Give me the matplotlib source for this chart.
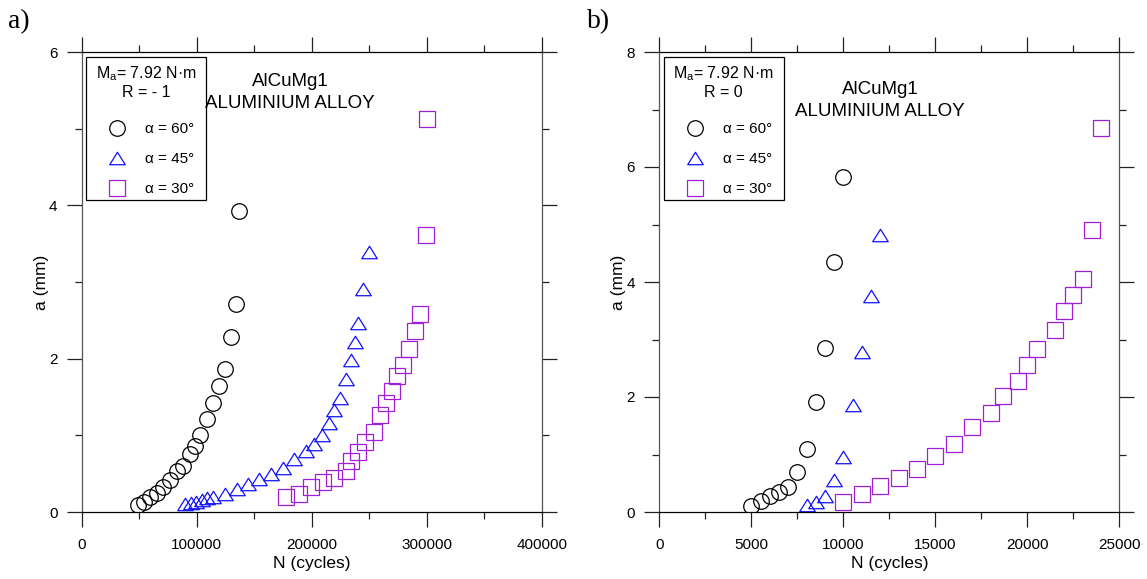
import matplotlib.pyplot as plt
from matplotlib.path import Path
from matplotlib.patches import Rectangle

plt.rcParams['font.family'] = ['Liberation Sans', 'DejaVu Sans']
plt.rcParams['mathtext.default'] = 'regular'

# panel a) R = -1 : N (cycles), a (mm)
n60_a = [49200, 54200, 59400, 65200, 71000, 76800, 82600, 88400, 94200, 98500,
         103200, 108900, 114500, 119600, 124300, 130100, 134300, 137000]
a60_a = [0.09, 0.13, 0.20, 0.25, 0.32, 0.42, 0.53, 0.60, 0.76, 0.86,
         1.00, 1.21, 1.42, 1.64, 1.86, 2.28, 2.71, 3.92]
n45_a = [89800, 94800, 99400, 104300, 108700, 114500, 124600, 134800, 144600,
         154400, 164300, 175300, 184900, 195000, 202300, 209200, 215000,
         219700, 224600, 229500, 234400, 237400, 240500, 244300, 249600]
a45_a = [0.10, 0.12, 0.13, 0.16, 0.18, 0.20, 0.23, 0.30, 0.36,
         0.43, 0.50, 0.58, 0.69, 0.80, 0.89, 1.00, 1.16,
         1.33, 1.49, 1.73, 1.98, 2.22, 2.47, 2.91, 3.39]
n30_a = [177400, 189200, 199700, 209800, 219700, 229500, 234500, 240000,
         246700, 254500, 259700, 264600, 269500, 274500, 279700, 284900,
         289800, 294500, 299400, 300300]
a30_a = [0.19, 0.24, 0.32, 0.39, 0.45, 0.53, 0.66, 0.78,
         0.91, 1.05, 1.26, 1.42, 1.58, 1.77, 1.92, 2.13,
         2.36, 2.58, 3.61, 5.12]

# panel b) R = 0
n60_b = [5000, 5500, 6000, 6500, 7000, 7500, 8000, 8500, 9000, 9500, 10000]
a60_b = [0.10, 0.19, 0.27, 0.34, 0.44, 0.69, 1.09, 1.91, 2.86, 4.34, 5.83]
n45_b = [8000, 8500, 9000, 9500, 10000, 10500, 11000, 11500, 12000]
a45_b = [0.12, 0.18, 0.28, 0.56, 0.95, 1.86, 2.79, 3.75, 4.81]
n30_b = [10000, 11000, 12000, 13000, 14000, 15000, 16000, 17000, 18000,
         18700, 19500, 20000, 20500, 21500, 22000, 22500, 23000, 23500, 24000]
a30_b = [0.18, 0.31, 0.46, 0.60, 0.75, 0.97, 1.19, 1.47, 1.73,
         2.01, 2.28, 2.55, 2.83, 3.17, 3.50, 3.78, 4.06, 4.90, 6.67]

labels = ['α = 60°', 'α = 45°', 'α = 30°']
# flat open triangle like the original
tri = Path([(-1, -0.8), (1, -0.8), (0, 0.8), (-1, -0.8)], closed=True)
purple = '#A01FD6'
blue = '#1010FF'


def draw(ax, data, xmax, xstep, ymax, header, title_xy):
    (n60, a60), (n45, a45), (n30, a30) = data
    ax.plot(n60, a60, ls='none', marker='o', ms=11.2, mfc='none', mec='black',
            mew=0.9, label=labels[0])
    ax.plot(n45, a45, ls='none', marker=tri, ms=11.2, mfc='none', mec=blue,
            mew=0.9, label=labels[1])
    ax.plot(n30, a30, ls='none', marker='s', ms=11.2, mfc='none', mec=purple,
            mew=0.9, label=labels[2])
    ax.set_xlim(0, xmax)
    ax.set_ylim(0, ymax)
    ax.set_xticks(range(0, xmax + 1, xstep))
    ax.set_xticks(range(0, xmax + 1, xstep // 2), minor=True)
    ax.set_yticks(range(0, ymax + 1, 2))
    ax.set_yticks(range(0, ymax + 1, 1), minor=True)
    ax.ticklabel_format(style='plain', axis='x')
    ax.tick_params(which='both', direction='out', top=True, right=True,
                   labelsize=11, width=0.9, color='#222222')
    ax.tick_params(which='major', length=11)
    ax.tick_params(axis='x', which='major', pad=8)
    ax.tick_params(axis='y', which='major', pad=6.5)
    ax.tick_params(which='minor', length=5)
    for s in ax.spines.values():
        s.set_linewidth(0.9)
    ax.spines['left'].set_color('#555555')
    ax.spines['right'].set_color('#555555')
    ax.set_xlabel('N (cycles)', fontsize=12.5, labelpad=2.5)
    ax.set_ylabel('a (mm)', fontsize=12.5, labelpad=0)
    ax.text(title_xy[0], title_xy[1], 'AlCuMg1\nALUMINIUM ALLOY',
            transform=ax.transAxes, ha='center', va='top', fontsize=13.5,
            linespacing=1.34)

    # legend box: frame, two-line header, then the three entries
    ax.add_patch(Rectangle((0.0095, 0.678), 0.261, 0.311, transform=ax.transAxes,
                           fill=False, edgecolor='black', lw=0.9, zorder=4))
    ax.text(0.14, 0.935, header, transform=ax.transAxes, ha='center',
            va='center', fontsize=11.5, linespacing=1.15, zorder=5)
    ax.legend(loc='upper left', bbox_to_anchor=(0.0435, 0.848), borderaxespad=0,
              frameon=False, fontsize=11, handlelength=2.0, handletextpad=0.83,
              labelspacing=1.05, borderpad=0)


fig = plt.figure(figsize=(11.47, 5.79), dpi=100)
ax1 = fig.add_axes([81.7 / 1147, 67 / 579, 460 / 1147, 460 / 579])
ax2 = fig.add_axes([659.3 / 1147, 67 / 579, 460 / 1147, 460 / 579])

draw(ax1, [(n60_a, a60_a), (n45_a, a45_a), (n30_a, a30_a)], 400000, 100000, 6,
     'M$_a$= 7.92 N·m\nR = - 1', (0.453, 0.954))
draw(ax2, [(n60_b, a60_b), (n45_b, a45_b), (n30_b, a30_b)], 25000, 5000, 8,
     'M$_a$= 7.92 N·m\nR = 0', (0.48, 0.936))

fig.text(0.007, 0.962, 'a)', family='Liberation Serif', fontsize=20, va='center')
fig.text(0.512, 0.962, 'b)', family='Liberation Serif', fontsize=20, va='center')

fig.savefig('out.png', dpi=100)
